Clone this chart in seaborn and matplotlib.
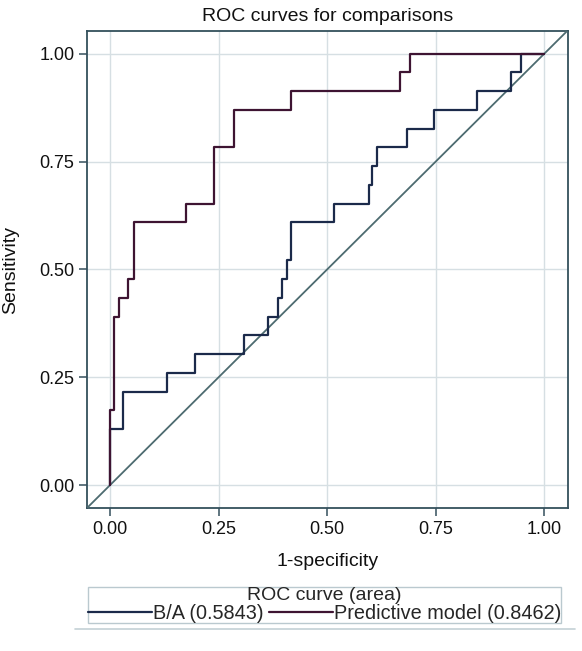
import numpy as np
import pandas as pd
import matplotlib
matplotlib.use('Agg')
import matplotlib.pyplot as plt
from matplotlib.lines import Line2D
import seaborn as sns

# ROC step vertices (1-specificity, sensitivity)
ba_fpr = [0.0, 0.0, 0.031, 0.132, 0.196, 0.308, 0.365, 0.386, 0.396, 0.407,
          0.417, 0.517, 0.596, 0.604, 0.615, 0.683, 0.746, 0.846, 0.923, 0.946, 1.0]
ba_tpr = [0.0, 0.130, 0.217, 0.261, 0.304, 0.348, 0.391, 0.435, 0.478, 0.522,
          0.609, 0.652, 0.696, 0.739, 0.783, 0.826, 0.870, 0.913, 0.957, 1.0, 1.0]

pm_fpr = [0.0, 0.0, 0.009, 0.021, 0.042, 0.055, 0.176, 0.240, 0.286, 0.417,
          0.669, 0.692, 1.0]
pm_tpr = [0.0, 0.174, 0.391, 0.435, 0.478, 0.609, 0.652, 0.783, 0.870, 0.913,
          0.957, 1.0, 1.0]

labels = ['B/A (0.5843)', 'Predictive model (0.8462)']
colors = ['#1b2a4a', '#3e1432']
ticks = [0.0, 0.25, 0.5, 0.75, 1.0]
tick_labels = ['0.00', '0.25', '0.50', '0.75', '1.00']

sns.set_style('white')
plt.rcParams['font.family'] = ['Liberation Sans', 'DejaVu Sans']
frame_col = '#34505c'
txt_col = '#111111'

fig = plt.figure(figsize=(5.82, 6.51), dpi=100)
ax = fig.add_axes([87 / 582, 1 - 508 / 651, 481 / 582, 477 / 651])

df_ba = pd.DataFrame({'fpr': ba_fpr, 'tpr': ba_tpr})
df_pm = pd.DataFrame({'fpr': pm_fpr, 'tpr': pm_tpr})

sns.lineplot(data=df_ba, x='fpr', y='tpr', ax=ax, sort=False, estimator=None,
             drawstyle='steps-post', color=colors[0], lw=1.6, label=labels[0], zorder=4)
sns.lineplot(data=df_pm, x='fpr', y='tpr', ax=ax, sort=False, estimator=None,
             drawstyle='steps-post', color=colors[1], lw=1.6, label=labels[1], zorder=5)
ax.axline((0, 0), slope=1, color='#4d6b70', lw=1.3, zorder=3)

ax.set_xlim(-0.053, 1.055)
ax.set_ylim(-0.053, 1.053)
ax.set_xticks(ticks)
ax.set_xticklabels(tick_labels)
ax.set_yticks(ticks)
ax.set_yticklabels(tick_labels)
ax.grid(True, color='#d6dfe3', lw=1.0)
ax.set_axisbelow(True)
for s in ax.spines.values():
    s.set_color(frame_col)
    s.set_linewidth(1.3)
ax.tick_params(axis='both', direction='out', length=6, width=1.1, color=frame_col,
               labelsize=13, labelcolor=txt_col, pad=3, left=True, bottom=True)

ax.set_title('ROC curves for comparisons', fontsize=14, pad=7, color=txt_col)
ax.set_xlabel('1-specificity', fontsize=14, color=txt_col, va='center')
ax.set_ylabel('Sensitivity', fontsize=14, color=txt_col, va='center')
ax.xaxis.set_label_coords(0.5, (508 - 562) / 477)
ax.yaxis.set_label_coords((11 - 87) / 481, 0.5)

handles, _ = ax.get_legend_handles_labels()
ax.get_legend().remove()
leg = fig.legend(handles, labels, title='ROC curve (area)', loc='upper left',
                 bbox_to_anchor=(88 / 582, 1 - 587 / 651), ncol=2, fontsize=14.3,
                 title_fontsize=14, frameon=True, fancybox=False, handlelength=3.2,
                 handletextpad=0.05, columnspacing=0.3, borderpad=0.0,
                 labelspacing=0.0, borderaxespad=0)
leg.get_frame().set_edgecolor('#a9bcc3')
leg.get_frame().set_linewidth(1.0)

fig.add_artist(Line2D([75 / 582, 575 / 582], [1 - 629 / 651, 1 - 629 / 651],
                      color='#c3d1d5', lw=1.2))

fig.savefig('out.png', dpi=100, facecolor='white')
